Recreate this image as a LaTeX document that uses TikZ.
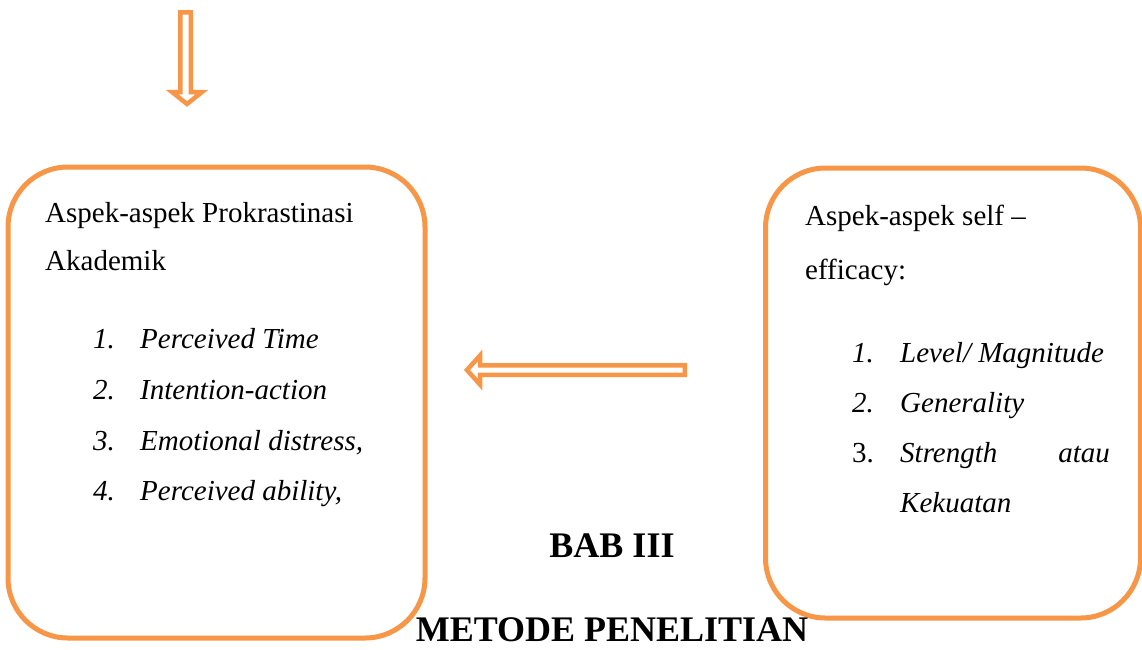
\documentclass[tikz,border=0pt]{standalone}
\usepackage{fontspec}
\setmainfont{Liberation Serif}
\definecolor{accent}{HTML}{F79646}
\tikzset{
  aspectbox/.style={draw=accent, line width=5pt, rounded corners=60pt, fill=white, inner sep=0pt},
  blockarrow/.style={draw=accent, line width=4.5pt, fill=white, line join=miter},
  txt/.style={anchor=base west, inner sep=0pt, font=\fontsize{29}{34}\selectfont},
  txtr/.style={anchor=base east, inner sep=0pt, font=\fontsize{29}{34}\selectfont},
  heading/.style={anchor=base, inner sep=0pt, font=\fontsize{36}{40}\selectfont\bfseries}
}
\begin{document}
\begin{tikzpicture}[x=1pt, y=-1pt]
\useasboundingbox (0,0) rectangle (1142,649);

% two aspect boxes
\node[aspectbox, minimum width=417pt, minimum height=471pt] (prok) at (216.5,402.5) {};
\node[aspectbox, minimum width=375pt, minimum height=450pt] (self) at (953,393) {};

% hollow arrow entering from above
\draw[blockarrow] (180.25,12.25) -- (190.75,12.25) -- (190.75,92) -- (202,92) -- (187,104)
  -- (172,92) -- (180.25,92) -- cycle;

% hollow arrow from self-efficacy to procrastination
\draw[blockarrow] (684.75,365.25) -- (480,365.25) -- (480,355.5) -- (467,370) -- (480,384.5)
  -- (480,374.75) -- (684.75,374.75) -- cycle;

% procrastination aspects
\node[txt] (p0) at (45,222) {Aspek-aspek Prokrastinasi};
\node[txt] (p0b) at (45,270) {Akademik};
\node[txt] (p1n) at (93,348) {\itshape 1.};
\node[txt] (p1) at (140,348) {\itshape Perceived Time};
\node[txt] (p2n) at (93,399) {\itshape 2.};
\node[txt] (p2) at (140,399) {\itshape Intention-action};
\node[txt] (p3n) at (93,450) {\itshape 3.};
\node[txt] (p3) at (140,450) {\itshape Emotional distress,};
\node[txt] (p4n) at (93,500) {\itshape 4.};
\node[txt] (p4) at (140,500) {\itshape Perceived ability,};

% self-efficacy aspects
\node[txt] (s0) at (805,225) {Aspek-aspek self –};
\node[txt] (s0b) at (805,279) {efficacy:};
\node[txt] (s1n) at (852,362) {\itshape 1.};
\node[txt] (s1) at (900,362) {\itshape Level/ Magnitude};
\node[txt] (s2n) at (852,412) {\itshape 2.};
\node[txt] (s2) at (900,412) {\itshape Generality};
\node[txt] (s3n) at (852,462) {3.};
\node[txt] (s3) at (900,462) {\itshape Strength};
\node[txtr] (s3b) at (1110,462) {\itshape atau};
\node[txt] (s3c) at (900,512) {\itshape Kekuatan};

% chapter heading
\node[heading] (bab) at (612,557) {BAB III};
\node[heading] (judul) at (612,641) {METODE PENELITIAN};
\end{tikzpicture}
\end{document}
